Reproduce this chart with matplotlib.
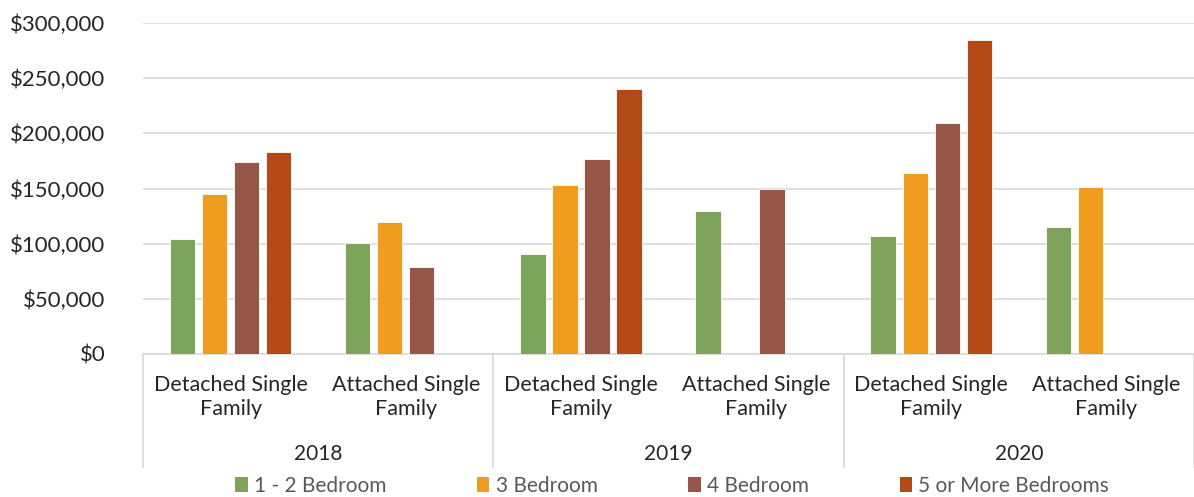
import numpy as np
import matplotlib.pyplot as plt
import matplotlib.transforms as mtransforms
from matplotlib.patches import Patch

# Median price by home type and bedroom count
years = ['2018', '2019', '2020']
home_types = ['Detached Single\nFamily', 'Attached Single\nFamily']
series_names = ['1 - 2 Bedroom', '3 Bedroom', '4 Bedroom', '5 or More Bedrooms']
# order: 2018 det, 2018 att, 2019 det, 2019 att, 2020 det, 2020 att
bed_1_2 = [104000, 100500, 90500, 130000, 107000, 115000]
bed_3 = [145000, 120000, 153000, np.nan, 164500, 151500]
bed_4 = [174000, 79000, 176500, 149500, 209500, np.nan]
bed_5 = [183500, np.nan, 240000, np.nan, 284500, np.nan]
colors = ['#7EA35A', '#F09C1E', '#955648', '#B54A19']

plt.rcParams['font.family'] = ['Lato', 'DejaVu Sans']

W, H = 1194, 497
fig = plt.figure(figsize=(W / 100, H / 100), dpi=100)
ax = fig.add_axes([143 / W, (H - 354) / H, (W - 143) / W, 331 / H])

n_cat = len(years) * len(home_types)
x = np.arange(n_cat)
step = 0.183
width = 0.145
all_series = [bed_1_2, bed_3, bed_4, bed_5]
for i, (vals, c) in enumerate(zip(all_series, colors)):
    offs = (i - 1.5) * step
    ax.bar(x + offs, vals, width=width, color=c, edgecolor='white',
           linewidth=0.6, zorder=3)

ax.set_xlim(-0.5, n_cat - 0.5)
ax.set_ylim(0, 300000)
ax.set_yticks(np.arange(0, 300001, 50000))
ax.set_yticklabels(['${:,.0f}'.format(v) for v in np.arange(0, 300001, 50000)],
                   fontsize=16, color='#262626')
ax.tick_params(axis='y', length=0, pad=27)
ax.set_xticks([])
ax.grid(axis='y', color='#D9D9D9', linewidth=1.2, zorder=0)
for s in ['top', 'right', 'left']:
    ax.spines[s].set_visible(False)
ax.spines['bottom'].set_color('#D9D9D9')
ax.spines['bottom'].set_linewidth(1.2)

# two-level category axis
trans = mtransforms.blended_transform_factory(ax.transData, ax.transAxes)
for i in range(n_cat):
    ax.text(x[i], -0.062, home_types[i % 2], transform=trans, ha='center',
            va='top', fontsize=15.5, color='#262626', linespacing=1.3)
for j, yr in enumerate(years):
    ax.text(2 * j + 0.5, -0.303, yr, transform=trans, ha='center', va='center',
            fontsize=15, color='#262626')
for xs in np.arange(-0.5, n_cat, 2):
    ax.plot([xs, xs], [0, -0.34], transform=trans, color='#D9D9D9',
            linewidth=1.2, clip_on=False)

handles = [Patch(facecolor=c, label=n) for c, n in zip(colors, series_names)]
fig.legend(handles=handles, loc='center', bbox_to_anchor=(0.563, 0.022),
           ncol=4, frameon=False, fontsize=15, handlelength=0.6,
           handleheight=0.7, handletextpad=0.3, columnspacing=4.35,
           labelcolor='#595959')

fig.savefig('out.png', dpi=100)
